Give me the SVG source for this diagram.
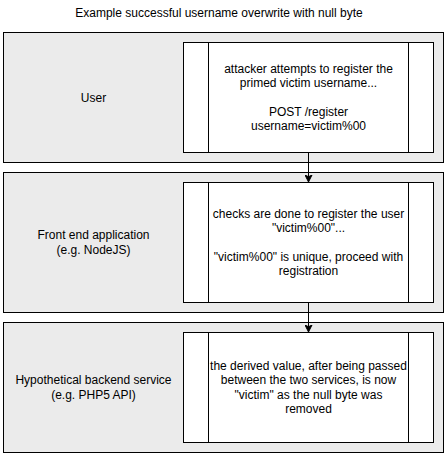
<svg xmlns="http://www.w3.org/2000/svg" width="446" height="457" viewBox="0 0 446 457">
  <style>
    .lane { fill: #ebebeb; stroke: #000000; stroke-width: 1; }
    .proc { fill: #ffffff; stroke: #000000; stroke-width: 1; }
    .div { stroke: #000000; stroke-width: 1; fill: none; }
    .t { font-family: "Liberation Sans", Arial, sans-serif; font-size: 12px; fill: #000000; text-anchor: middle; }
    .conn { stroke: #000000; stroke-width: 1; fill: none; }
  </style>
  <defs>
    <marker id="arrow" markerWidth="8" markerHeight="8" refX="7" refY="4" orient="auto" markerUnits="userSpaceOnUse">
      <path d="M0,0.5 L7,4 L0,7.5 L1.75,4 Z" fill="#000000" stroke="#000000" stroke-width="1"/>
    </marker>
  </defs>
  <rect width="446" height="457" fill="#ffffff"/>

  <g id="title">
    <text class="t" x="219" y="17">Example successful username overwrite with null byte</text>
  </g>

  <g id="lane-user">
    <rect class="lane" x="3.5" y="32.5" width="440" height="130"/>
    <text class="t" x="93.5" y="101.6">User</text>
  </g>
  <g id="lane-frontend">
    <rect class="lane" x="3.5" y="172.5" width="440" height="140"/>
    <text class="t" x="93.5" y="239.4">Front end application</text>
    <text class="t" x="93.5" y="253.8">(e.g. NodeJS)</text>
  </g>
  <g id="lane-backend">
    <rect class="lane" x="3.5" y="322.5" width="440" height="130"/>
    <text class="t" x="93.5" y="384.4">Hypothetical backend service</text>
    <text class="t" x="93.5" y="398.8">(e.g. PHP5 API)</text>
  </g>

  <g id="step-user">
    <rect class="proc" x="183.5" y="42.5" width="250" height="110"/>
    <path class="div" d="M208.5,42.5 V152.5 M408.5,42.5 V152.5"/>
    <text class="t" x="308.5" y="72.8">attacker attempts to register the</text>
    <text class="t" x="308.5" y="87.2">primed victim username...</text>
    <text class="t" x="308.5" y="116">POST /register</text>
    <text class="t" x="308.5" y="130.4">username=victim%00</text>
  </g>
  <g id="step-frontend">
    <rect class="proc" x="183.5" y="182.5" width="250" height="120"/>
    <path class="div" d="M208.5,182.5 V302.5 M408.5,182.5 V302.5"/>
    <text class="t" x="308.5" y="217.8">checks are done to register the user</text>
    <text class="t" x="308.5" y="232.2">"victim%00"...</text>
    <text class="t" x="308.5" y="261">"victim%00" is unique, proceed with</text>
    <text class="t" x="308.5" y="275.4">registration</text>
  </g>
  <g id="step-backend">
    <rect class="proc" x="183.5" y="332.5" width="250" height="110"/>
    <path class="div" d="M208.5,332.5 V442.5 M408.5,332.5 V442.5"/>
    <text class="t" x="308.5" y="370">the derived value, after being passed</text>
    <text class="t" x="308.5" y="384.4">between the two services, is now</text>
    <text class="t" x="308.5" y="398.8">"victim" as the null byte was</text>
    <text class="t" x="308.5" y="413.2">removed</text>
  </g>

  <g id="connectors">
    <path class="conn" d="M308.5,152.5 V182" marker-end="url(#arrow)"/>
    <path class="conn" d="M308.5,302.5 V332" marker-end="url(#arrow)"/>
  </g>
</svg>
